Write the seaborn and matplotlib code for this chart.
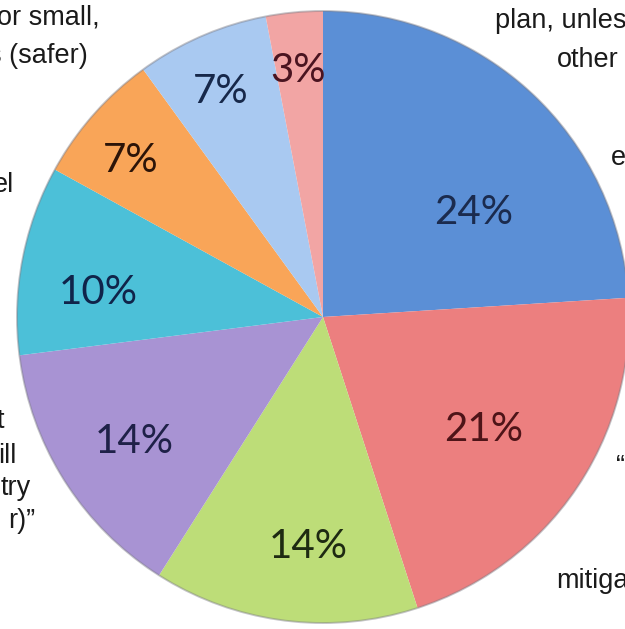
import numpy as np
import matplotlib
matplotlib.use("Agg")
import matplotlib.pyplot as plt
import seaborn as sns

# Survey answer shares, clockwise from 12 o'clock
shares = [24, 21, 14, 14, 10, 7, 7, 3]
slice_colors = ["#5b8fd6", "#ec7f7f", "#bddd78", "#a893d3",
                "#4cc0d8", "#f9a558", "#a9c9f1", "#f2a5a4"]
label_colors = ["#1b2b4e", "#4e1418", "#1e2a12", "#1f2148",
                "#10244a", "#2c1408", "#17284a", "#4a1420"]

# where each percentage sits: (fraction of radius, fraction across the wedge
# measured from its clockwise edge)
label_place = [(0.60, 0.36), (0.64, 0.49), (0.75, 0.57), (0.74, 0.52),
               (0.74, 0.63), (0.81, 0.59), (0.81, 0.54), (0.81, 0.54)]

# surrounding caption fragments: (text, x, y, ha)
captions = [
    ("or small,", 100, 604, "right"),
    ("s (safer)", 88, 566, "right"),
    ("el", 14, 437, "right"),
    ("t", 4, 201, "right"),
    ("ill", 16, 166, "right"),
    ("try", 31, 134, "right"),
    ("r)\u201d", 35, 101, "right"),
    ("plan, unless", 495, 601, "left"),
    ("other", 557, 562, "left"),
    ("e", 611, 464, "left"),
    ("\u201c", 616, 155, "left"),
    ("mitigation", 556, 41, "left"),
]

sns.set_theme(style="white")
plt.rcParams["font.family"] = ["Liberation Sans", "DejaVu Sans"]

W, H = 625, 629
fig = plt.figure(figsize=(W / 100, H / 100), dpi=100)
ax = fig.add_axes([0, 0, 1, 1])

cx, cy, R = 323, 312, 306
wedges, _ = ax.pie(shares, colors=slice_colors, startangle=90,
                   counterclock=False, center=(cx, cy), radius=R,
                   wedgeprops=dict(linewidth=0))
ax.add_patch(plt.Circle((cx, cy), R, fill=False, edgecolor="#7d7d86",
                        linewidth=1.4, alpha=0.45))

for w, val, col, (rf, af) in zip(wedges, shares, label_colors, label_place):
    a = np.deg2rad(w.theta1 + af * (w.theta2 - w.theta1))
    ax.text(cx + rf * R * np.cos(a), cy + rf * R * np.sin(a), f"{val}%",
            ha="center", va="center", fontsize=29, color=col,
            family=["Lato", "DejaVu Sans"])

for txt, x, y, ha in captions:
    ax.text(x, y, txt, ha=ha, va="baseline", fontsize=19.5, color="#1a1a1a")

ax.set_xlim(0, W)
ax.set_ylim(0, H)
ax.set_aspect("equal", adjustable="box")
ax.axis("off")
fig.savefig("out.png", dpi=100, facecolor="white")
